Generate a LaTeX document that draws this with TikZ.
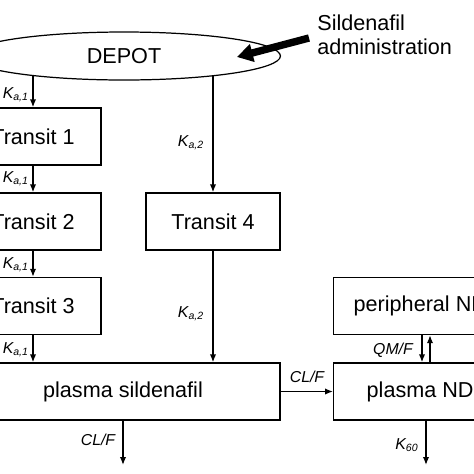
\documentclass[tikz,border=0pt]{standalone}
\usepackage{fontspec}
\setmainfont{Liberation Sans}
\usetikzlibrary{shapes.geometric,arrows.meta}

\begin{document}
\begin{tikzpicture}[x=0.02cm, y=-0.02cm,
    box/.style={draw, line width=0.8pt, minimum height=1.14cm, inner sep=0pt, font=\fontsize{12.3}{14.2}\selectfont},
    flow/.style={line width=0.8pt, -{Latex[length=4.5pt,width=3.6pt]}},
    lbl/.style={font=\fontsize{9}{10}\selectfont\itshape, inner sep=1pt}]
\useasboundingbox (0,0) rectangle (474,474);
\clip (0,0) rectangle (474,474);

% compartments
\node[draw, ellipse, line width=0.7pt, minimum width=6.26cm, minimum height=0.96cm, inner sep=0pt,
      font=\fontsize{12.3}{14.2}\selectfont] (depot) at (124,56) {DEPOT};
\node[box, minimum width=2.72cm] (t1) at (33,136.5) {Transit 1};
\node[box, minimum width=2.72cm] (t2) at (33,221.5) {Transit 2};
\node[box, minimum width=2.72cm] (t3) at (33,306) {Transit 3};
\node[box, minimum width=2.68cm] (t4) at (213,221.5) {Transit 4};
\node[box, minimum width=6.28cm] (ps) at (123,391.5) {plasma sildenafil};
\node[box, anchor=west, inner xsep=0.66cm] (ndp) at (333,391.5) {plasma ND};
\node[box, anchor=west, inner xsep=0.40cm] (per) at (333,306) {peripheral ND};

% dose
\node[align=left, anchor=north west, inner sep=0pt, font=\fontsize{12.3}{14.2}\selectfont] (admin) at (317,14)
  {Sildenafil\\administration};
\coordinate (dose) at (309,38);
\coordinate (dosetip) at (237,57);
\draw[line width=4.2pt, -{Triangle[length=9pt,width=10pt]}] (dose) -- (dosetip);

% absorption
\draw[flow] (t1.north |- depot.192) -- (t1.north);
\draw[flow] (t1.south) -- (t2.north);
\draw[flow] (t2.south) -- (t3.north);
\draw[flow] (t3.south) -- (t3.south |- ps.north);
\draw[flow] (t4.north |- depot.-12.5) -- (t4.north);
\draw[flow] (t4.south) -- (t4.south |- ps.north);

% metabolism and elimination
\draw[flow] (ps.east) -- (ndp.west);
\coordinate (qdn) at (422,0);
\coordinate (qup) at (430,0);
\draw[flow] (qdn |- per.south) -- (qdn |- ndp.north);
\draw[flow] (qup |- ndp.north) -- (qup |- per.south);
\coordinate (clout) at (123,465);
\coordinate (elim) at (426,465);
\draw[flow] (ps.south) -- (clout);
\draw[flow] (elim |- ndp.south) -- (elim);

% rate labels
\node[lbl, anchor=east] (ka1a) at (31,95) {K\textsubscript{a,1}};
\node[lbl, anchor=east] (ka1b) at (31,179) {K\textsubscript{a,1}};
\node[lbl, anchor=east] (ka1c) at (31,265) {K\textsubscript{a,1}};
\node[lbl, anchor=east] (ka1d) at (31,350) {K\textsubscript{a,1}};
\node[lbl] (ka2a) at (191,143) {K\textsubscript{a,2}};
\node[lbl] (ka2b) at (191,314) {K\textsubscript{a,2}};
\node[lbl] (clm) at (307,377) {CL/F};
\node[lbl] (qm) at (393,350) {QM/F};
\node[lbl] (clp) at (98,440) {CL/F};
\node[lbl] (k60) at (407,445) {K\textsubscript{60}};
\end{tikzpicture}
\end{document}
